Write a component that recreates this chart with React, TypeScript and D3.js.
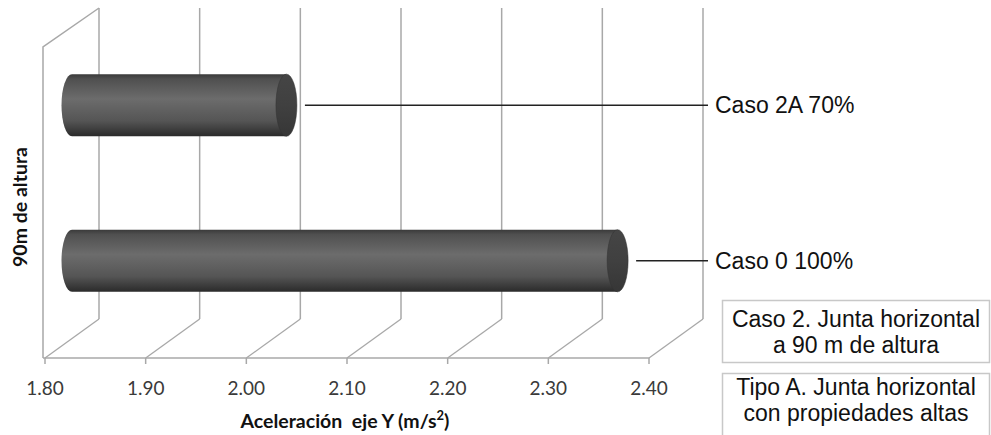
import React from "react";
import * as d3 from "d3";

const categories = ["Caso 0 100%", "Caso 2A 70%"];
const values = [2.342, 2.013];
const xTicks = [1.8, 1.9, 2.0, 2.1, 2.2, 2.3, 2.4];
const xTitle = "Aceleración  eje Y (m/s";
const yTitle = "90m de altura";
const box1Lines = ["Caso 2. Junta horizontal", "a 90 m de altura"];
const box2Lines = ["Tipo A. Junta horizontal", "con propiedades altas"];

export default function App() {
  const W = 991, H = 435;
  const xFront = d3.scaleLinear().domain([1.8, 2.4]).range([45, 649]);
  const dx = 54, dy = -39;
  const floorY = 358, topY = 47;
  const xMid = (v: number) => xFront(v) + dx / 2;
  const yBand = d3.scaleBand<string>().domain(categories).range([floorY + dy / 2, topY + dy / 2]).padding(0);
  const r = yBand.step() * 0.2;
  const rx = 10.5;
  const grid = "#a8a8a8";
  const fontArial = "'Liberation Sans', Arial, sans-serif";
  const fontLato = "Lato, 'Open Sans', sans-serif";

  return (
    <svg width={W} height={H} style={{ position: "absolute", left: 0, top: 0, background: "#fff" }}>
      <defs>
        <linearGradient id="cyl" x1="0" y1="0" x2="0" y2="1">
          <stop offset="0" stopColor="#3a3a3a" />
          <stop offset="0.08" stopColor="#505050" />
          <stop offset="0.4" stopColor="#6c6c6c" />
          <stop offset="0.75" stopColor="#555555" />
          <stop offset="0.95" stopColor="#333333" />
          <stop offset="1" stopColor="#2a2a2a" />
        </linearGradient>
        <linearGradient id="cap" x1="0" y1="0" x2="0" y2="1">
          <stop offset="0" stopColor="#454545" />
          <stop offset="0.5" stopColor="#404040" />
          <stop offset="1" stopColor="#363636" />
        </linearGradient>
      </defs>

      {/* back wall gridlines */}
      {xTicks.map((t) => (
        <line key={"g" + t} x1={xFront(t) + dx} x2={xFront(t) + dx} y1={topY + dy} y2={floorY + dy}
          stroke={grid} strokeWidth={1.5} />
      ))}
      {/* floor diagonals */}
      {xTicks.map((t) => (
        <line key={"f" + t} x1={xFront(t) + dx} x2={xFront(t)} y1={floorY + dy} y2={floorY}
          stroke={grid} strokeWidth={1.3} />
      ))}
      {/* left wall */}
      <polyline points={`${xFront(1.8) - 2},${floorY} ${xFront(1.8) - 2},${topY} ${xFront(1.8) + dx},${topY + dy}`}
        fill="none" stroke={grid} strokeWidth={1.5} />
      {/* front floor edge */}
      <line x1={xFront(1.8) - 2} x2={xFront(2.4)} y1={floorY} y2={floorY} stroke={grid} strokeWidth={1.5} />
      {xTicks.map((t) => (
        <line key={"t" + t} x1={xFront(t)} x2={xFront(t)} y1={floorY} y2={floorY + 6} stroke={grid} strokeWidth={1.5} />
      ))}
      {xTicks.map((t) => (
        <text key={"l" + t} x={xFront(t)} y={floorY + 37} textAnchor="middle" fontFamily={fontLato}
          fontSize={19} fill="#3a3a3a">{t.toFixed(2)}</text>
      ))}

      {/* cylinders */}
      {categories.map((c, i) => {
        const cy = (yBand(c) as number) + yBand.bandwidth() / 2;
        const x0 = xMid(1.8), x1 = xMid(values[i]);
        const body = `M${x0},${cy - r} L${x1},${cy - r} L${x1},${cy + r} L${x0},${cy + r} A${rx},${r} 0 0 1 ${x0},${cy - r} Z`;
        return (
          <g key={c}>
            <path d={body} fill="url(#cyl)" />
            <ellipse cx={x1} cy={cy} rx={rx} ry={r} fill="url(#cap)" stroke="#333" strokeWidth={0.5} />
            <line x1={x1 + rx + 8} x2={708} y1={cy} y2={cy} stroke="#222" strokeWidth={1.5} />
            <text x={715} y={cy + 8} fontFamily={fontArial} fontSize={23} fill="#111">{c}</text>
          </g>
        );
      })}

      {/* axis titles */}
      <text x={345} y={428} textAnchor="middle" fontFamily={fontLato} fontWeight="bold" fontSize={19.5} fill="#111"
        style={{ whiteSpace: "pre" }}>
        {xTitle}
        <tspan fontSize={13} dy={-8}>2</tspan>
        <tspan dy={8}>)</tspan>
      </text>
      <text transform="translate(27,207) rotate(-90)" textAnchor="middle" fontFamily={fontLato} fontWeight="bold"
        fontSize={19.5} fill="#111">{yTitle}</text>

      {/* text boxes */}
      <rect x={722.5} y={300.5} width={267} height={62} fill="#fff" stroke="#c8c8c8" strokeWidth={1.5} />
      {box1Lines.map((s, i) => (
        <text key={s} x={856} y={327 + i * 26} textAnchor="middle" fontFamily={fontArial} fontSize={23} fill="#111">{s}</text>
      ))}
      <rect x={722.5} y={373.5} width={267} height={70} fill="#fff" stroke="#c8c8c8" strokeWidth={1.5} />
      {box2Lines.map((s, i) => (
        <text key={s} x={856} y={395 + i * 26} textAnchor="middle" fontFamily={fontArial} fontSize={23} fill="#111">{s}</text>
      ))}
    </svg>
  );
}
